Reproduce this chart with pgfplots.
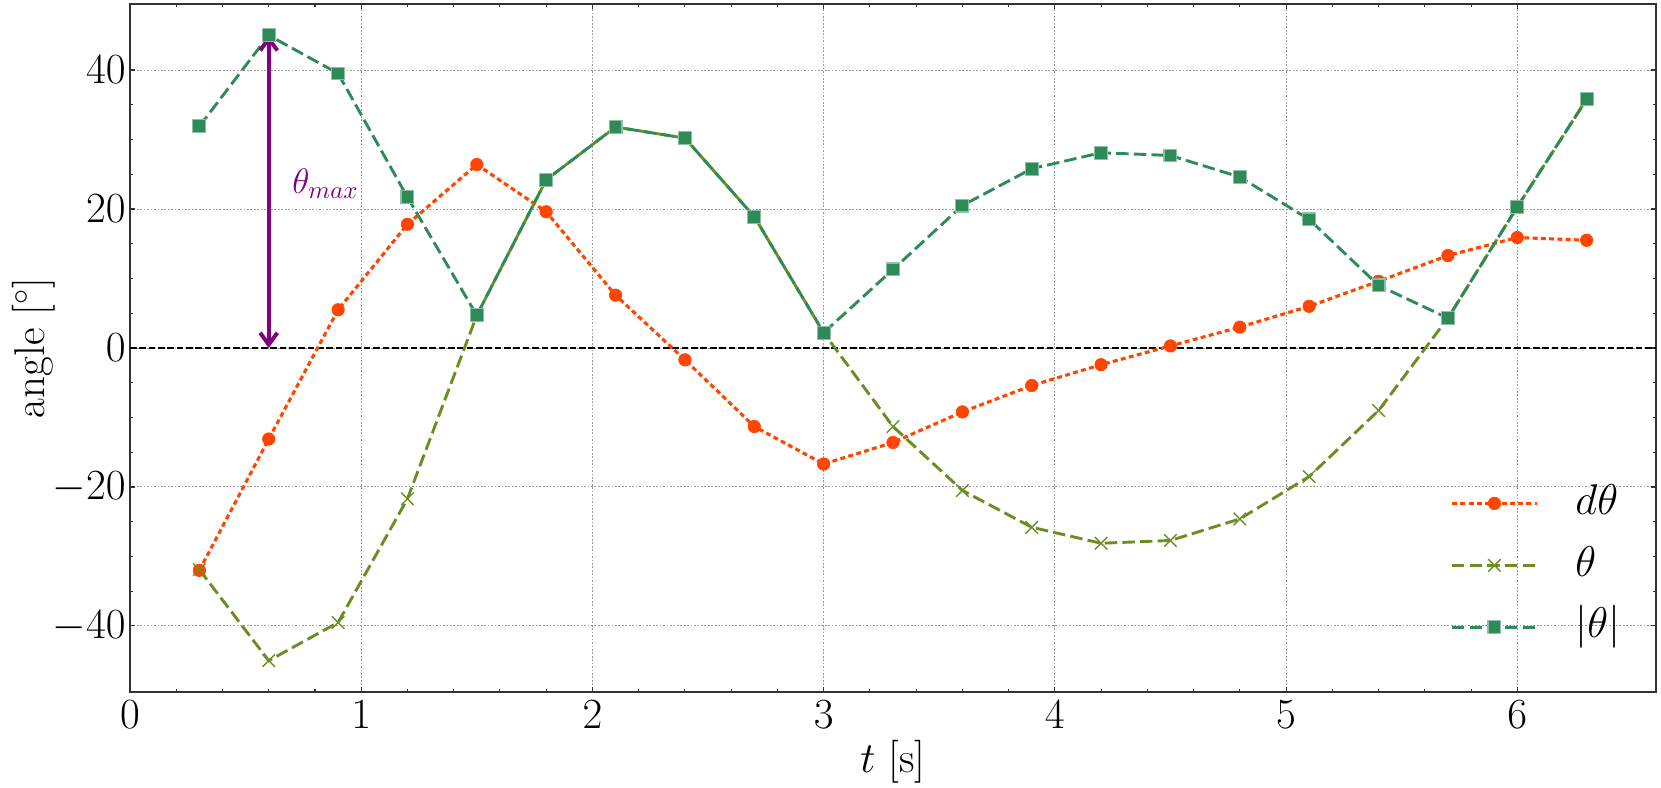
\RequirePackage{fix-cm}
\documentclass[border=0pt]{standalone}
\usepackage{pgfplots}
\usepackage{pgfplotstable}
\pgfplotsset{compat=1.18}
\usetikzlibrary{arrows.meta}
\definecolor{dcol}{HTML}{FF4500}
\definecolor{tcol}{HTML}{6B8E23}
\definecolor{acol}{HTML}{2E8B57}
\definecolor{pcol}{HTML}{800080}

\pgfplotstableread{
t dth th ath
0.3 -32.0 -31.9 31.9
0.6 -13.1 -45.0 45.0
0.9 5.5 -39.5 39.5
1.2 17.8 -21.7 21.7
1.5 26.4 4.7 4.7
1.8 19.6 24.2 24.2
2.1 7.6 31.8 31.8
2.4 -1.7 30.2 30.2
2.7 -11.3 18.9 18.9
3.0 -16.7 2.2 2.2
3.3 -13.6 -11.3 11.3
3.6 -9.2 -20.5 20.5
3.9 -5.4 -25.8 25.8
4.2 -2.4 -28.1 28.1
4.5 0.3 -27.7 27.7
4.8 3.0 -24.6 24.6
5.1 6.0 -18.5 18.5
5.4 9.6 -9.0 9.0
5.7 13.3 4.3 4.3
6.0 15.9 20.3 20.3
6.3 15.5 35.8 35.8
}\data

\begin{document}
\begin{tikzpicture}[font=\fontsize{20}{24}\selectfont]
\begin{axis}[
  scale only axis, width=709.8pt, height=320pt,
  xmin=0, xmax=6.6, ymin=-49.5, ymax=49.5,
  xtick={0,1,2,3,4,5,6}, ytick={-40,-20,0,20,40},
  minor x tick num=4, minor y tick num=3,
  tick align=inside,
  major tick length=2.3pt, minor tick length=1.4pt,
  every tick/.style={black!80, line width=0.5pt},
  axis line style={black!80, line width=0.9pt},
  grid=major,
  major grid style={gray!80, line width=0.45pt, dash pattern=on 0.8pt off 0.8pt},
  xticklabel style={inner ysep=3.7pt},
  yticklabel style={inner xsep=1.86pt},
  xlabel={$t$ [s]}, ylabel={angle [$^\circ$]},
  xlabel style={at={(axis description cs:0.5,-0.1177)}, anchor=base},
  ylabel style={at={(axis description cs:-0.0562,0.5)}, anchor=base},
  legend cell align=left,
  legend style={draw=none, fill=none, at={(0.865,0.306)}, anchor=north west,
    inner sep=0pt, row sep=8.8pt,
    font=\fontsize{20}{24}\selectfont,
    nodes={inner sep=0pt, text height=15pt, text depth=5pt},
    /tikz/every odd column/.append style={column sep=17.2pt}},
  legend image code/.code={\draw[mark repeat=2,mark phase=2] plot coordinates {(0pt,0pt)(19.75pt,0pt)(39.5pt,0pt)};},
]
\addplot[forget plot, black, line width=0.8pt, dash pattern=on 3.1pt off 1.25pt] coordinates {(0,0) (6.6,0)};
\addplot[dcol, line width=1.45pt, dash pattern=on 2.3pt off 1.55pt, mark=*, mark size=2.9pt,
  mark options={solid, fill=dcol, draw=dcol, line width=0.3pt}] table[x=t,y=dth]{\data};
\addplot[tcol, line width=1.35pt, dash pattern=on 5.8pt off 2.4pt, mark=x, mark size=4.1pt,
  mark options={solid, line width=0.65pt}] table[x=t,y=th]{\data};
\addplot[acol, line width=1.35pt, dash pattern=on 5.8pt off 2.4pt, mark=square*, mark size=3pt,
  mark options={solid, fill=acol, draw=acol!55!white, line width=0.5pt}] table[x=t,y=ath]{\data};
\legend{$d\theta$, $\theta$, $|\theta|$}
\draw[pcol, line width=1.85pt, {Straight Barb[length=5.5pt,width=8pt]}-{Straight Barb[length=5.5pt,width=8pt]}] (axis cs:0.6,0) -- (axis cs:0.6,45);
\node[pcol, anchor=west, inner sep=0pt, font=\fontsize{16.5}{20}\selectfont] at (axis cs:0.70,23.6) {$\theta_{max}$};
\end{axis}
\pgfresetboundingbox
\path[use as bounding box] ([shift={(-60.47pt,-44.65pt)}]current axis.south west) rectangle ([shift={(2.33pt,1.86pt)}]current axis.north east);
\end{tikzpicture}
\end{document}
